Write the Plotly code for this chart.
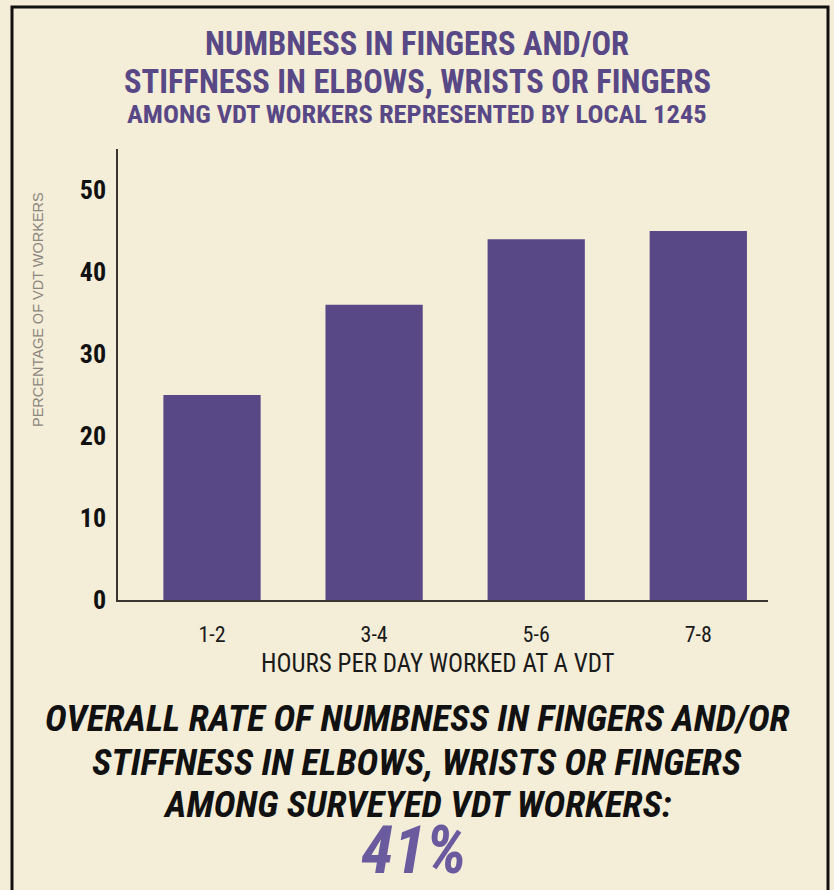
import plotly.graph_objects as go

# Survey results: share of VDT workers reporting symptoms, by daily hours at a VDT
hours = ["1-2", "3-4", "5-6", "7-8"]
pct_workers = [25, 36, 44, 45]
overall_rate = 41
y_ticks = [0, 10, 20, 30, 40, 50]

PURPLE = "#584886"
PAPER = "#f4edd8"
COND = "Roboto Condensed, Open Sans Condensed, sans-serif"

W, H = 834, 890
L, R, T, B = 118, 66, 149, 290
PW, PH = W - L - R, H - T - B


def px(x):
    return (x - L) / PW


def py(y):
    return (H - B - y) / PH


fig = go.Figure(
    go.Bar(
        x=hours,
        y=pct_workers,
        width=0.6,
        marker=dict(color=PURPLE, line=dict(width=0)),
        hoverinfo="x+y",
    )
)

fig.update_layout(
    width=W,
    height=H,
    margin=dict(l=L, r=R, t=T, b=B),
    paper_bgcolor=PAPER,
    plot_bgcolor=PAPER,
    showlegend=False,
    xaxis=dict(
        type="category",
        range=[-0.58, 3.43],
        showgrid=False,
        zeroline=False,
        showline=True,
        linecolor="#3a3530",
        linewidth=1.5,
        ticks="",
        tickfont=dict(family=COND, size=22, color="#1a1a1a"),
        ticklabelstandoff=14,
    ),
    yaxis=dict(
        range=[0, 55],
        tickvals=y_ticks,
        ticktext=[str(v) for v in y_ticks],
        showgrid=False,
        zeroline=False,
        showline=True,
        linecolor="#3a3530",
        linewidth=1.5,
        ticks="",
        tickfont=dict(family=COND, size=26, color="#111111", weight="bold"),
        ticklabelstandoff=5,
    ),
)

annotations = []

# Chart heading
heading = [
    ("NUMBNESS IN FINGERS AND/OR", 44, 32.5),
    ("STIFFNESS IN ELBOWS, WRISTS OR FINGERS", 81.5, 32.5),
    ("AMONG VDT WORKERS REPRESENTED BY LOCAL 1245", 114, 26.5),
]
for text, y, size in heading:
    annotations.append(dict(
        text=text, x=px(417), y=py(y), xref="paper", yref="paper",
        xanchor="center", yanchor="middle", showarrow=False, borderpad=0,
        font=dict(family=COND, size=size, color=PURPLE, weight="bold"),
    ))

# Axis titles
annotations.append(dict(
    text="PERCENTAGE OF VDT WORKERS", x=px(38), y=py(310),
    xref="paper", yref="paper", xanchor="center", yanchor="middle",
    textangle=-90, showarrow=False,
    font=dict(family="Liberation Sans, Arial, sans-serif", size=14.5, color="#8c8680"),
))
annotations.append(dict(
    text="HOURS PER DAY WORKED AT A VDT", x=px(438), y=py(663),
    xref="paper", yref="paper", xanchor="center", yanchor="middle",
    showarrow=False, borderpad=0,
    font=dict(family=COND, size=25, color="#1a1a1a"),
))

# Overall rate summary
summary = [
    ("OVERALL RATE OF NUMBNESS IN FINGERS AND/OR", 718),
    ("STIFFNESS IN ELBOWS, WRISTS OR FINGERS", 762),
    ("AMONG SURVEYED VDT WORKERS:", 804),
]
for text, y in summary:
    annotations.append(dict(
        text=f"<i>{text}</i>", x=px(417), y=py(y), xref="paper", yref="paper",
        xanchor="center", yanchor="middle", showarrow=False, borderpad=0,
        font=dict(family=COND, size=37, color="#111111", weight="bold"),
    ))
annotations.append(dict(
    text=f"<i>{overall_rate}%</i>", x=px(414), y=py(850), xref="paper", yref="paper",
    xanchor="center", yanchor="middle", showarrow=False, borderpad=0,
    font=dict(family=COND, size=66, color="#6a5a9e", weight="bold"),
))

fig.update_layout(annotations=annotations)

# Frame around the whole graphic
fig.add_shape(
    type="rect", xref="paper", yref="paper",
    x0=px(12), x1=px(828), y0=py(900), y1=py(7),
    line=dict(color="#111111", width=3), fillcolor="rgba(0,0,0,0)", layer="above",
)

fig.write_html("out.html")
